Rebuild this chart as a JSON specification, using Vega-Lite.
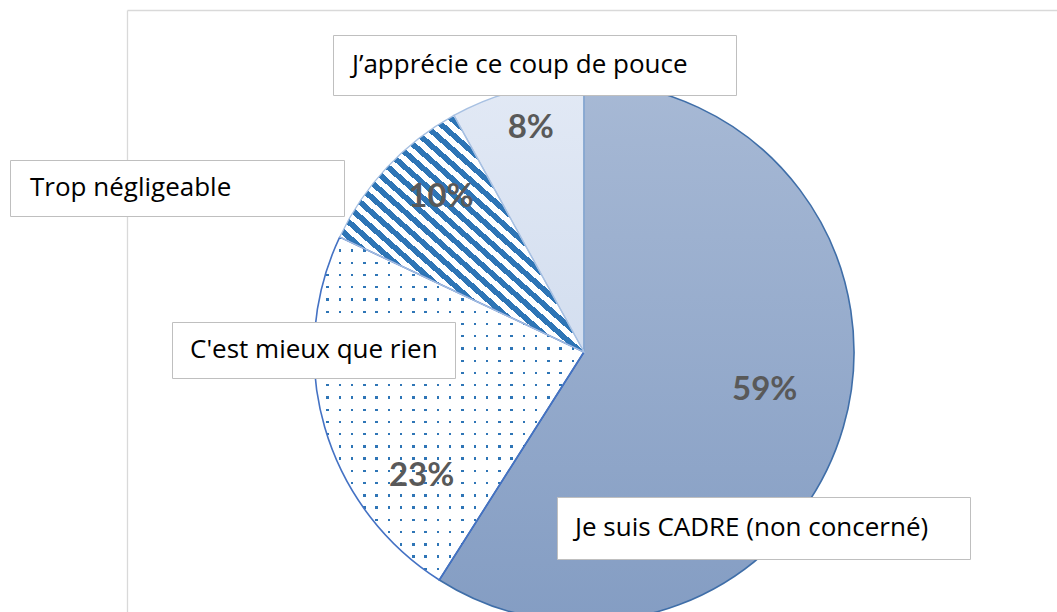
{
  "$schema": "https://vega.github.io/schema/vega-lite/v6.json",
  "autosize": {"type": "none"},
  "padding": {"left": 127, "top": 10, "right": 16, "bottom": 0},
  "width": 914,
  "height": 684,
  "background": "#ffffff",
  "config": {"view": {"stroke": null}},
  "data": {"values": [
    {"cat": "Je suis CADRE (non concerné)", "share": 0.59},
    {"cat": "C'est mieux que rien", "share": 0.23},
    {"cat": "Trop négligeable", "share": 0.10},
    {"cat": "J’apprécie ce coup de pouce", "share": 0.08}
  ]},
  "resolve": {"scale": {"color": "independent"}, "legend": {"color": "independent"}},
  "layer": [
    {
      "mark": {"type": "point", "opacity": 0},
      "encoding": {
        "x": {"field": "share", "type": "quantitative", "scale": {"range": [0, 930]},
              "axis": {"orient": "top", "labels": false, "ticks": false, "grid": false, "title": null, "domainColor": "#d9d9d9", "domainWidth": 1.3}},
        "y": {"field": "share", "type": "quantitative",
              "axis": {"orient": "left", "labels": false, "ticks": false, "grid": false, "title": null, "domainColor": "#d9d9d9", "domainWidth": 1.3}}
      }
    },
    {
      "mark": {"type": "arc", "outerRadius": 270},
      "encoding": {
        "theta": {"field": "share", "type": "quantitative", "stack": true},
        "order": {"field": "share", "sort": "descending"},
        "fill": {
          "condition": [
            {"test": "datum.share === 0.59", "value": {"gradient": "linear", "x1": 0, "y1": 0, "x2": 0, "y2": 1,
              "stops": [{"offset": 0, "color": "#a7b9d5"}, {"offset": 1, "color": "#849dc3"}]}},
            {"test": "datum.share === 0.23", "value": {"gradient": "linear", "x1": 0, "y1": 0, "x2": 1, "y2": 0,
              "stops": [
                {"offset": 0, "color": "#2e75b6"}, {"offset": 0.00909, "color": "#2e75b6"}, {"offset": 0.00909, "color": "#ffffff"}, {"offset": 0.04545, "color": "#ffffff"},
                {"offset": 0.04545, "color": "#2e75b6"}, {"offset": 0.05455, "color": "#2e75b6"}, {"offset": 0.05455, "color": "#ffffff"}, {"offset": 0.09091, "color": "#ffffff"},
                {"offset": 0.09091, "color": "#2e75b6"}, {"offset": 0.1, "color": "#2e75b6"}, {"offset": 0.1, "color": "#ffffff"}, {"offset": 0.13636, "color": "#ffffff"},
                {"offset": 0.13636, "color": "#2e75b6"}, {"offset": 0.14545, "color": "#2e75b6"}, {"offset": 0.14545, "color": "#ffffff"}, {"offset": 0.18182, "color": "#ffffff"},
                {"offset": 0.18182, "color": "#2e75b6"}, {"offset": 0.19091, "color": "#2e75b6"}, {"offset": 0.19091, "color": "#ffffff"}, {"offset": 0.22727, "color": "#ffffff"},
                {"offset": 0.22727, "color": "#2e75b6"}, {"offset": 0.23636, "color": "#2e75b6"}, {"offset": 0.23636, "color": "#ffffff"}, {"offset": 0.27273, "color": "#ffffff"},
                {"offset": 0.27273, "color": "#2e75b6"}, {"offset": 0.28182, "color": "#2e75b6"}, {"offset": 0.28182, "color": "#ffffff"}, {"offset": 0.31818, "color": "#ffffff"},
                {"offset": 0.31818, "color": "#2e75b6"}, {"offset": 0.32727, "color": "#2e75b6"}, {"offset": 0.32727, "color": "#ffffff"}, {"offset": 0.36364, "color": "#ffffff"},
                {"offset": 0.36364, "color": "#2e75b6"}, {"offset": 0.37273, "color": "#2e75b6"}, {"offset": 0.37273, "color": "#ffffff"}, {"offset": 0.40909, "color": "#ffffff"},
                {"offset": 0.40909, "color": "#2e75b6"}, {"offset": 0.41818, "color": "#2e75b6"}, {"offset": 0.41818, "color": "#ffffff"}, {"offset": 0.45455, "color": "#ffffff"},
                {"offset": 0.45455, "color": "#2e75b6"}, {"offset": 0.46364, "color": "#2e75b6"}, {"offset": 0.46364, "color": "#ffffff"}, {"offset": 0.5, "color": "#ffffff"},
                {"offset": 0.5, "color": "#2e75b6"}, {"offset": 0.50909, "color": "#2e75b6"}, {"offset": 0.50909, "color": "#ffffff"}, {"offset": 0.54545, "color": "#ffffff"},
                {"offset": 0.54545, "color": "#2e75b6"}, {"offset": 0.55455, "color": "#2e75b6"}, {"offset": 0.55455, "color": "#ffffff"}, {"offset": 0.59091, "color": "#ffffff"},
                {"offset": 0.59091, "color": "#2e75b6"}, {"offset": 0.6, "color": "#2e75b6"}, {"offset": 0.6, "color": "#ffffff"}, {"offset": 0.63636, "color": "#ffffff"},
                {"offset": 0.63636, "color": "#2e75b6"}, {"offset": 0.64545, "color": "#2e75b6"}, {"offset": 0.64545, "color": "#ffffff"}, {"offset": 0.68182, "color": "#ffffff"},
                {"offset": 0.68182, "color": "#2e75b6"}, {"offset": 0.69091, "color": "#2e75b6"}, {"offset": 0.69091, "color": "#ffffff"}, {"offset": 0.72727, "color": "#ffffff"},
                {"offset": 0.72727, "color": "#2e75b6"}, {"offset": 0.73636, "color": "#2e75b6"}, {"offset": 0.73636, "color": "#ffffff"}, {"offset": 0.77273, "color": "#ffffff"},
                {"offset": 0.77273, "color": "#2e75b6"}, {"offset": 0.78182, "color": "#2e75b6"}, {"offset": 0.78182, "color": "#ffffff"}, {"offset": 0.81818, "color": "#ffffff"},
                {"offset": 0.81818, "color": "#2e75b6"}, {"offset": 0.82727, "color": "#2e75b6"}, {"offset": 0.82727, "color": "#ffffff"}, {"offset": 0.86364, "color": "#ffffff"},
                {"offset": 0.86364, "color": "#2e75b6"}, {"offset": 0.87273, "color": "#2e75b6"}, {"offset": 0.87273, "color": "#ffffff"}, {"offset": 0.90909, "color": "#ffffff"},
                {"offset": 0.90909, "color": "#2e75b6"}, {"offset": 0.91818, "color": "#2e75b6"}, {"offset": 0.91818, "color": "#ffffff"}, {"offset": 0.95455, "color": "#ffffff"},
                {"offset": 0.95455, "color": "#2e75b6"}, {"offset": 0.96364, "color": "#2e75b6"}, {"offset": 0.96364, "color": "#ffffff"}, {"offset": 1, "color": "#ffffff"}
              ]}},
            {"test": "datum.share === 0.1", "value": {"gradient": "linear", "x1": 0, "y1": 1, "x2": 0.91, "y2": 0,
              "stops": [
                {"offset": 0, "color": "#2e75b6"}, {"offset": 0.01724, "color": "#2e75b6"}, {"offset": 0.01724, "color": "#ffffff"}, {"offset": 0.03448, "color": "#ffffff"},
                {"offset": 0.03448, "color": "#2e75b6"}, {"offset": 0.05172, "color": "#2e75b6"}, {"offset": 0.05172, "color": "#ffffff"}, {"offset": 0.06897, "color": "#ffffff"},
                {"offset": 0.06897, "color": "#2e75b6"}, {"offset": 0.08621, "color": "#2e75b6"}, {"offset": 0.08621, "color": "#ffffff"}, {"offset": 0.10345, "color": "#ffffff"},
                {"offset": 0.10345, "color": "#2e75b6"}, {"offset": 0.12069, "color": "#2e75b6"}, {"offset": 0.12069, "color": "#ffffff"}, {"offset": 0.13793, "color": "#ffffff"},
                {"offset": 0.13793, "color": "#2e75b6"}, {"offset": 0.15517, "color": "#2e75b6"}, {"offset": 0.15517, "color": "#ffffff"}, {"offset": 0.17241, "color": "#ffffff"},
                {"offset": 0.17241, "color": "#2e75b6"}, {"offset": 0.18966, "color": "#2e75b6"}, {"offset": 0.18966, "color": "#ffffff"}, {"offset": 0.2069, "color": "#ffffff"},
                {"offset": 0.2069, "color": "#2e75b6"}, {"offset": 0.22414, "color": "#2e75b6"}, {"offset": 0.22414, "color": "#ffffff"}, {"offset": 0.24138, "color": "#ffffff"},
                {"offset": 0.24138, "color": "#2e75b6"}, {"offset": 0.25862, "color": "#2e75b6"}, {"offset": 0.25862, "color": "#ffffff"}, {"offset": 0.27586, "color": "#ffffff"},
                {"offset": 0.27586, "color": "#2e75b6"}, {"offset": 0.2931, "color": "#2e75b6"}, {"offset": 0.2931, "color": "#ffffff"}, {"offset": 0.31034, "color": "#ffffff"},
                {"offset": 0.31034, "color": "#2e75b6"}, {"offset": 0.32759, "color": "#2e75b6"}, {"offset": 0.32759, "color": "#ffffff"}, {"offset": 0.34483, "color": "#ffffff"},
                {"offset": 0.34483, "color": "#2e75b6"}, {"offset": 0.36207, "color": "#2e75b6"}, {"offset": 0.36207, "color": "#ffffff"}, {"offset": 0.37931, "color": "#ffffff"},
                {"offset": 0.37931, "color": "#2e75b6"}, {"offset": 0.39655, "color": "#2e75b6"}, {"offset": 0.39655, "color": "#ffffff"}, {"offset": 0.41379, "color": "#ffffff"},
                {"offset": 0.41379, "color": "#2e75b6"}, {"offset": 0.43103, "color": "#2e75b6"}, {"offset": 0.43103, "color": "#ffffff"}, {"offset": 0.44828, "color": "#ffffff"},
                {"offset": 0.44828, "color": "#2e75b6"}, {"offset": 0.46552, "color": "#2e75b6"}, {"offset": 0.46552, "color": "#ffffff"}, {"offset": 0.48276, "color": "#ffffff"},
                {"offset": 0.48276, "color": "#2e75b6"}, {"offset": 0.5, "color": "#2e75b6"}, {"offset": 0.5, "color": "#ffffff"}, {"offset": 0.51724, "color": "#ffffff"},
                {"offset": 0.51724, "color": "#2e75b6"}, {"offset": 0.53448, "color": "#2e75b6"}, {"offset": 0.53448, "color": "#ffffff"}, {"offset": 0.55172, "color": "#ffffff"},
                {"offset": 0.55172, "color": "#2e75b6"}, {"offset": 0.56897, "color": "#2e75b6"}, {"offset": 0.56897, "color": "#ffffff"}, {"offset": 0.58621, "color": "#ffffff"},
                {"offset": 0.58621, "color": "#2e75b6"}, {"offset": 0.60345, "color": "#2e75b6"}, {"offset": 0.60345, "color": "#ffffff"}, {"offset": 0.62069, "color": "#ffffff"},
                {"offset": 0.62069, "color": "#2e75b6"}, {"offset": 0.63793, "color": "#2e75b6"}, {"offset": 0.63793, "color": "#ffffff"}, {"offset": 0.65517, "color": "#ffffff"},
                {"offset": 0.65517, "color": "#2e75b6"}, {"offset": 0.67241, "color": "#2e75b6"}, {"offset": 0.67241, "color": "#ffffff"}, {"offset": 0.68966, "color": "#ffffff"},
                {"offset": 0.68966, "color": "#2e75b6"}, {"offset": 0.7069, "color": "#2e75b6"}, {"offset": 0.7069, "color": "#ffffff"}, {"offset": 0.72414, "color": "#ffffff"},
                {"offset": 0.72414, "color": "#2e75b6"}, {"offset": 0.74138, "color": "#2e75b6"}, {"offset": 0.74138, "color": "#ffffff"}, {"offset": 0.75862, "color": "#ffffff"},
                {"offset": 0.75862, "color": "#2e75b6"}, {"offset": 0.77586, "color": "#2e75b6"}, {"offset": 0.77586, "color": "#ffffff"}, {"offset": 0.7931, "color": "#ffffff"},
                {"offset": 0.7931, "color": "#2e75b6"}, {"offset": 0.81034, "color": "#2e75b6"}, {"offset": 0.81034, "color": "#ffffff"}, {"offset": 0.82759, "color": "#ffffff"},
                {"offset": 0.82759, "color": "#2e75b6"}, {"offset": 0.84483, "color": "#2e75b6"}, {"offset": 0.84483, "color": "#ffffff"}, {"offset": 0.86207, "color": "#ffffff"},
                {"offset": 0.86207, "color": "#2e75b6"}, {"offset": 0.87931, "color": "#2e75b6"}, {"offset": 0.87931, "color": "#ffffff"}, {"offset": 0.89655, "color": "#ffffff"},
                {"offset": 0.89655, "color": "#2e75b6"}, {"offset": 0.91379, "color": "#2e75b6"}, {"offset": 0.91379, "color": "#ffffff"}, {"offset": 0.93103, "color": "#ffffff"},
                {"offset": 0.93103, "color": "#2e75b6"}, {"offset": 0.94828, "color": "#2e75b6"}, {"offset": 0.94828, "color": "#ffffff"}, {"offset": 0.96552, "color": "#ffffff"},
                {"offset": 0.96552, "color": "#2e75b6"}, {"offset": 0.98276, "color": "#2e75b6"}, {"offset": 0.98276, "color": "#ffffff"}, {"offset": 1, "color": "#ffffff"}
              ]}}
          ],
          "value": {"gradient": "linear", "x1": 0, "y1": 0, "x2": 0, "y2": 1,
            "stops": [{"offset": 0, "color": "#e2e9f5"}, {"offset": 1, "color": "#d3deef"}]}
        }
      }
    },
    {
      "mark": {"type": "arc", "outerRadius": 270},
      "encoding": {
        "theta": {"field": "share", "type": "quantitative", "stack": true},
        "order": {"field": "share", "sort": "descending"},
        "fill": {
          "condition": {"test": "datum.share === 0.23", "value": {"gradient": "linear", "x1": 0, "y1": 0, "x2": 0, "y2": 1,
            "stops": [
              {"offset": 0, "color": "rgba(255,255,255,0)"}, {"offset": 0.00714, "color": "rgba(255,255,255,0)"}, {"offset": 0.00714, "color": "#ffffff"}, {"offset": 0.03571, "color": "#ffffff"},
              {"offset": 0.03571, "color": "rgba(255,255,255,0)"}, {"offset": 0.04286, "color": "rgba(255,255,255,0)"}, {"offset": 0.04286, "color": "#ffffff"}, {"offset": 0.07143, "color": "#ffffff"},
              {"offset": 0.07143, "color": "rgba(255,255,255,0)"}, {"offset": 0.07857, "color": "rgba(255,255,255,0)"}, {"offset": 0.07857, "color": "#ffffff"}, {"offset": 0.10714, "color": "#ffffff"},
              {"offset": 0.10714, "color": "rgba(255,255,255,0)"}, {"offset": 0.11429, "color": "rgba(255,255,255,0)"}, {"offset": 0.11429, "color": "#ffffff"}, {"offset": 0.14286, "color": "#ffffff"},
              {"offset": 0.14286, "color": "rgba(255,255,255,0)"}, {"offset": 0.15, "color": "rgba(255,255,255,0)"}, {"offset": 0.15, "color": "#ffffff"}, {"offset": 0.17857, "color": "#ffffff"},
              {"offset": 0.17857, "color": "rgba(255,255,255,0)"}, {"offset": 0.18571, "color": "rgba(255,255,255,0)"}, {"offset": 0.18571, "color": "#ffffff"}, {"offset": 0.21429, "color": "#ffffff"},
              {"offset": 0.21429, "color": "rgba(255,255,255,0)"}, {"offset": 0.22143, "color": "rgba(255,255,255,0)"}, {"offset": 0.22143, "color": "#ffffff"}, {"offset": 0.25, "color": "#ffffff"},
              {"offset": 0.25, "color": "rgba(255,255,255,0)"}, {"offset": 0.25714, "color": "rgba(255,255,255,0)"}, {"offset": 0.25714, "color": "#ffffff"}, {"offset": 0.28571, "color": "#ffffff"},
              {"offset": 0.28571, "color": "rgba(255,255,255,0)"}, {"offset": 0.29286, "color": "rgba(255,255,255,0)"}, {"offset": 0.29286, "color": "#ffffff"}, {"offset": 0.32143, "color": "#ffffff"},
              {"offset": 0.32143, "color": "rgba(255,255,255,0)"}, {"offset": 0.32857, "color": "rgba(255,255,255,0)"}, {"offset": 0.32857, "color": "#ffffff"}, {"offset": 0.35714, "color": "#ffffff"},
              {"offset": 0.35714, "color": "rgba(255,255,255,0)"}, {"offset": 0.36429, "color": "rgba(255,255,255,0)"}, {"offset": 0.36429, "color": "#ffffff"}, {"offset": 0.39286, "color": "#ffffff"},
              {"offset": 0.39286, "color": "rgba(255,255,255,0)"}, {"offset": 0.4, "color": "rgba(255,255,255,0)"}, {"offset": 0.4, "color": "#ffffff"}, {"offset": 0.42857, "color": "#ffffff"},
              {"offset": 0.42857, "color": "rgba(255,255,255,0)"}, {"offset": 0.43571, "color": "rgba(255,255,255,0)"}, {"offset": 0.43571, "color": "#ffffff"}, {"offset": 0.46429, "color": "#ffffff"},
              {"offset": 0.46429, "color": "rgba(255,255,255,0)"}, {"offset": 0.47143, "color": "rgba(255,255,255,0)"}, {"offset": 0.47143, "color": "#ffffff"}, {"offset": 0.5, "color": "#ffffff"},
              {"offset": 0.5, "color": "rgba(255,255,255,0)"}, {"offset": 0.50714, "color": "rgba(255,255,255,0)"}, {"offset": 0.50714, "color": "#ffffff"}, {"offset": 0.53571, "color": "#ffffff"},
              {"offset": 0.53571, "color": "rgba(255,255,255,0)"}, {"offset": 0.54286, "color": "rgba(255,255,255,0)"}, {"offset": 0.54286, "color": "#ffffff"}, {"offset": 0.57143, "color": "#ffffff"},
              {"offset": 0.57143, "color": "rgba(255,255,255,0)"}, {"offset": 0.57857, "color": "rgba(255,255,255,0)"}, {"offset": 0.57857, "color": "#ffffff"}, {"offset": 0.60714, "color": "#ffffff"},
              {"offset": 0.60714, "color": "rgba(255,255,255,0)"}, {"offset": 0.61429, "color": "rgba(255,255,255,0)"}, {"offset": 0.61429, "color": "#ffffff"}, {"offset": 0.64286, "color": "#ffffff"},
              {"offset": 0.64286, "color": "rgba(255,255,255,0)"}, {"offset": 0.65, "color": "rgba(255,255,255,0)"}, {"offset": 0.65, "color": "#ffffff"}, {"offset": 0.67857, "color": "#ffffff"},
              {"offset": 0.67857, "color": "rgba(255,255,255,0)"}, {"offset": 0.68571, "color": "rgba(255,255,255,0)"}, {"offset": 0.68571, "color": "#ffffff"}, {"offset": 0.71429, "color": "#ffffff"},
              {"offset": 0.71429, "color": "rgba(255,255,255,0)"}, {"offset": 0.72143, "color": "rgba(255,255,255,0)"}, {"offset": 0.72143, "color": "#ffffff"}, {"offset": 0.75, "color": "#ffffff"},
              {"offset": 0.75, "color": "rgba(255,255,255,0)"}, {"offset": 0.75714, "color": "rgba(255,255,255,0)"}, {"offset": 0.75714, "color": "#ffffff"}, {"offset": 0.78571, "color": "#ffffff"},
              {"offset": 0.78571, "color": "rgba(255,255,255,0)"}, {"offset": 0.79286, "color": "rgba(255,255,255,0)"}, {"offset": 0.79286, "color": "#ffffff"}, {"offset": 0.82143, "color": "#ffffff"},
              {"offset": 0.82143, "color": "rgba(255,255,255,0)"}, {"offset": 0.82857, "color": "rgba(255,255,255,0)"}, {"offset": 0.82857, "color": "#ffffff"}, {"offset": 0.85714, "color": "#ffffff"},
              {"offset": 0.85714, "color": "rgba(255,255,255,0)"}, {"offset": 0.86429, "color": "rgba(255,255,255,0)"}, {"offset": 0.86429, "color": "#ffffff"}, {"offset": 0.89286, "color": "#ffffff"},
              {"offset": 0.89286, "color": "rgba(255,255,255,0)"}, {"offset": 0.9, "color": "rgba(255,255,255,0)"}, {"offset": 0.9, "color": "#ffffff"}, {"offset": 0.92857, "color": "#ffffff"},
              {"offset": 0.92857, "color": "rgba(255,255,255,0)"}, {"offset": 0.93571, "color": "rgba(255,255,255,0)"}, {"offset": 0.93571, "color": "#ffffff"}, {"offset": 0.96429, "color": "#ffffff"},
              {"offset": 0.96429, "color": "rgba(255,255,255,0)"}, {"offset": 0.97143, "color": "rgba(255,255,255,0)"}, {"offset": 0.97143, "color": "#ffffff"}, {"offset": 1, "color": "#ffffff"}
            ]}},
          "value": "transparent"
        }
      }
    },
    {
      "mark": {"type": "arc", "outerRadius": 270},
      "encoding": {
        "theta": {"field": "share", "type": "quantitative", "stack": true},
        "order": {"field": "share", "sort": "descending"},
        "fill": {"value": "transparent"},
        "stroke": {
          "condition": [
            {"test": "datum.share === 0.59", "value": "#3f6ea8"},
            {"test": "datum.share === 0.23", "value": "#4472c4"}
          ],
          "value": "#a7c0e2"
        },
        "strokeWidth": {
          "condition": [
            {"test": "datum.share === 0.59", "value": 1.6},
            {"test": "datum.share === 0.23", "value": 1.6}
          ],
          "value": 1.3
        }
      }
    },
    {
      "mark": {"type": "text", "radius": 184, "dx": 4, "dy": -13, "font": "Lato", "fontSize": 33, "fontWeight": "bold", "fill": "#595959"},
      "encoding": {
        "theta": {"field": "share", "type": "quantitative", "stack": true},
        "order": {"field": "share", "sort": "descending"},
        "text": {"field": "share", "type": "quantitative", "format": ".0%"},
        "opacity": {"condition": {"test": "datum.share === 0.59", "value": 1}, "value": 0}
      }
    },
    {
      "mark": {"type": "text", "radius": 190, "dx": 20, "dy": 71, "font": "Lato", "fontSize": 33, "fontWeight": "bold", "fill": "#595959"},
      "encoding": {
        "theta": {"field": "share", "type": "quantitative", "stack": true},
        "order": {"field": "share", "sort": "descending"},
        "text": {"field": "share", "type": "quantitative", "format": ".0%"},
        "opacity": {"condition": {"test": "datum.share === 0.23", "value": 1}, "value": 0}
      }
    },
    {
      "mark": {"type": "text", "radius": 210, "dx": 10, "dy": -11, "font": "Lato", "fontSize": 33, "fontWeight": "bold", "fill": "#595959"},
      "encoding": {
        "theta": {"field": "share", "type": "quantitative", "stack": true},
        "order": {"field": "share", "sort": "descending"},
        "text": {"field": "share", "type": "quantitative", "format": ".0%"},
        "opacity": {"condition": {"test": "datum.share === 0.1", "value": 1}, "value": 0}
      }
    },
    {
      "mark": {"type": "text", "radius": 230, "dx": 4, "dy": -1, "font": "Lato", "fontSize": 33, "fontWeight": "bold", "fill": "#595959"},
      "encoding": {
        "theta": {"field": "share", "type": "quantitative", "stack": true},
        "order": {"field": "share", "sort": "descending"},
        "text": {"field": "share", "type": "quantitative", "format": ".0%"},
        "opacity": {"condition": {"test": "datum.share === 0.08", "value": 1}, "value": 0}
      }
    },
    {
      "transform": [{"filter": "datum.share === 0.08"}],
      "mark": {"type": "point", "opacity": 0},
      "encoding": {
        "color": {"field": "cat", "type": "nominal", "scale": {"range": ["#ffffff"]},
          "legend": {"orient": "none", "legendX": 206, "legendY": 25, "title": null, "symbolSize": 1, "symbolOpacity": 0, "symbolStrokeWidth": 0, "symbolOffset": 355, "labelOffset": -379,
            "labelFont": "Open Sans", "labelFontSize": 26, "labelColor": "#000000", "labelLimit": 600, "padding": 17, "fillColor": "#ffffff", "strokeColor": "#bfbfbf"}}
      }
    },
    {
      "transform": [{"filter": "datum.share === 0.1"}],
      "mark": {"type": "point", "opacity": 0},
      "encoding": {
        "color": {"field": "cat", "type": "nominal", "scale": {"range": ["#ffffff"]},
          "legend": {"orient": "none", "legendX": -117, "legendY": 150, "title": null, "symbolSize": 1, "symbolOpacity": 0, "symbolStrokeWidth": 0, "symbolOffset": 290, "labelOffset": -311,
            "labelFont": "Open Sans", "labelFontSize": 26, "labelColor": "#000000", "labelLimit": 600, "padding": 15, "fillColor": "#ffffff", "strokeColor": "#bfbfbf"}}
      }
    },
    {
      "transform": [{"filter": "datum.share === 0.23"}],
      "mark": {"type": "point", "opacity": 0},
      "encoding": {
        "color": {"field": "cat", "type": "nominal", "scale": {"range": ["#ffffff"]},
          "legend": {"orient": "none", "legendX": 45, "legendY": 312, "title": null, "symbolSize": 1, "symbolOpacity": 0, "symbolStrokeWidth": 0, "symbolOffset": 239, "labelOffset": -262,
            "labelFont": "Open Sans", "labelFontSize": 26, "labelColor": "#000000", "labelLimit": 600, "padding": 15, "fillColor": "#ffffff", "strokeColor": "#bfbfbf"}}
      }
    },
    {
      "transform": [{"filter": "datum.share === 0.59"}],
      "mark": {"type": "point", "opacity": 0},
      "encoding": {
        "color": {"field": "cat", "type": "nominal", "scale": {"range": ["#ffffff"]},
          "legend": {"orient": "none", "legendX": 430, "legendY": 487, "title": null, "symbolSize": 1, "symbolOpacity": 0, "symbolStrokeWidth": 0, "symbolOffset": 363, "labelOffset": -389,
            "labelFont": "Open Sans", "labelFontSize": 26, "labelColor": "#000000", "labelLimit": 600, "padding": 18, "fillColor": "#ffffff", "strokeColor": "#bfbfbf"}}
      }
    }
  ]
}
